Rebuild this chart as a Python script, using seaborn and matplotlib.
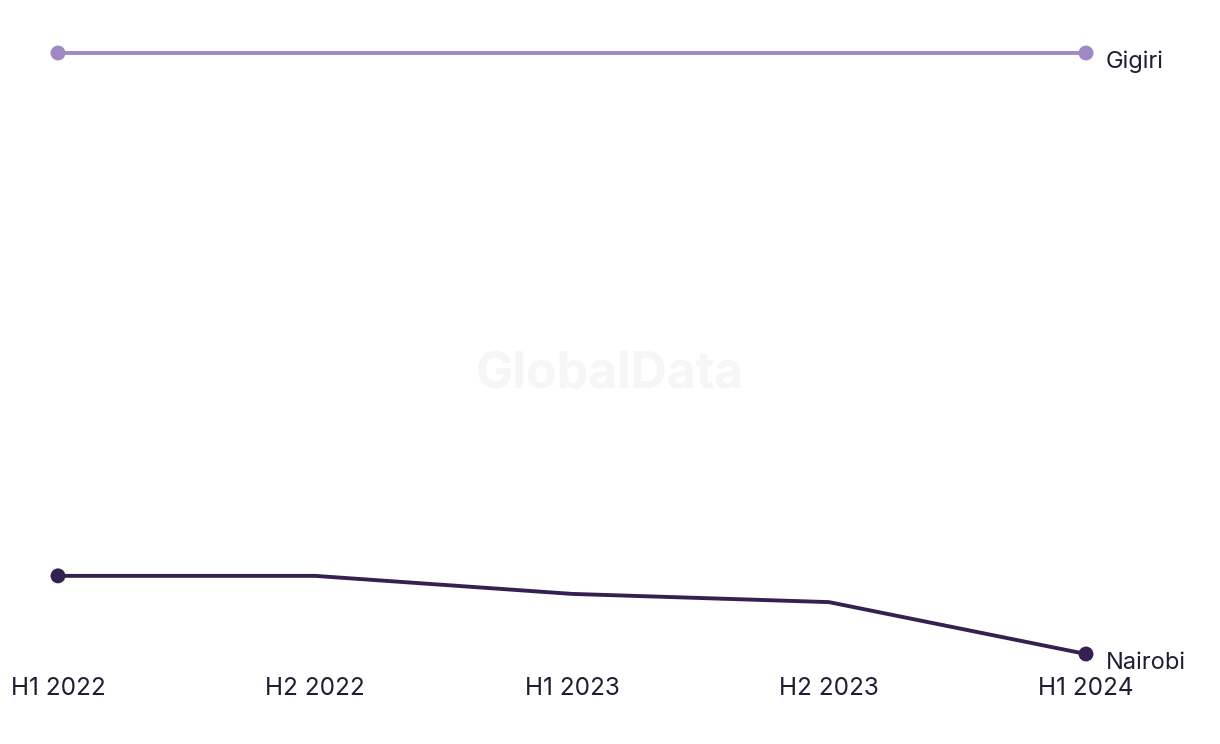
import matplotlib
matplotlib.use("Agg")
import matplotlib.pyplot as plt
import seaborn as sns
import pandas as pd

periods = ["H1 2022", "H2 2022", "H1 2023", "H2 2023", "H1 2024"]
gigiri = [290, 290, 290, 290, 290]
nairobi = [124.7, 124.7, 119.0, 116.4, 100.0]
series_names = ["Gigiri", "Nairobi"]
colors = {"Gigiri": "#a088c4", "Nairobi": "#35214f"}

sns.set_theme(style="white")
plt.rcParams["font.family"] = ["Inter", "DejaVu Sans"]

rows = []
for name, vals in zip(series_names, [gigiri, nairobi]):
    for i, (p, v) in enumerate(zip(periods, vals)):
        rows.append({"period": p, "idx": i, "value": v, "series": name})
df = pd.DataFrame(rows)
ends = df[(df["idx"] == 0) | (df["idx"] == len(periods) - 1)]

fig = plt.figure(figsize=(12.2, 7.44), dpi=100)
ax = fig.add_axes([58 / 1220, 1 - 654 / 744, (1086 - 58) / 1220, (654 - 53) / 744])

fig.text(0.5, 1 - 375 / 744, "GlobalData", ha="center", va="center",
         fontsize=36, fontweight="bold", color="#f6f6f6", zorder=0)

sns.lineplot(data=df, x="idx", y="value", hue="series", palette=colors,
             linewidth=2.8, legend=False, ax=ax, clip_on=False)
sns.scatterplot(data=ends, x="idx", y="value", hue="series", palette=colors,
                s=115, edgecolor="none", legend=False, ax=ax, clip_on=False, zorder=5)

ax.set_xlim(0, len(periods) - 1)
ax.set_ylim(100, 290)
ax.set_xticks(range(len(periods)))
ax.set_xticklabels(periods, fontsize=17.5, color="#1e1d33")
ax.tick_params(axis="x", length=0, pad=16.5)
ax.set_yticks([])
ax.set_xlabel("")
ax.set_ylabel("")
for s in ax.spines.values():
    s.set_visible(False)
ax.patch.set_alpha(0)

for name, vals in zip(series_names, [gigiri, nairobi]):
    ax.annotate(name, xy=(len(periods) - 1, vals[-1]), xytext=(14, -6.5),
                textcoords="offset points", fontsize=17, color="#1e1d33",
                va="center", ha="left", annotation_clip=False)

fig.savefig("out.png", dpi=100, facecolor="white")
